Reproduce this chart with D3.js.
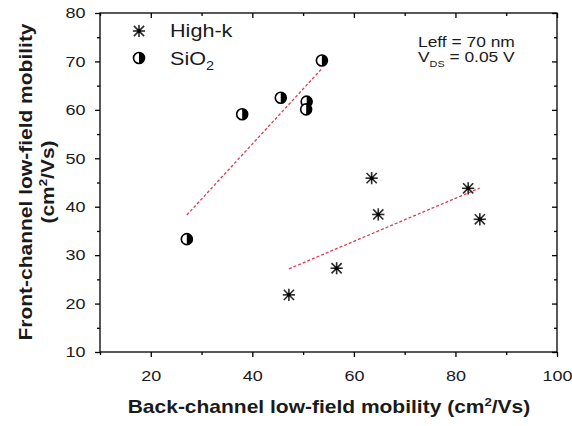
<!DOCTYPE html>
<html>
<head>
<meta charset="utf-8">
<script src="https://cdn.jsdelivr.net/npm/d3@7"></script>
<style>
  body { margin: 0; background: #fff; }
  text { font-family: "Liberation Sans", Arial, sans-serif; fill: #1a1a1a; }
</style>
</head>
<body>
<svg id="chart" width="572" height="426"></svg>
<script>
// data
const highkX = [47.2, 56.6, 63.5, 64.8, 82.5, 84.8];
const highkY = [21.8, 27.3, 45.9, 38.4, 43.8, 37.4];
const sio2X = [27.1, 38.0, 45.6, 50.7, 50.6, 53.7];
const sio2Y = [33.3, 59.1, 62.5, 61.7, 60.1, 70.2];
const xTicks = [20, 40, 60, 80, 100];
const xMinor = [10, 30, 50, 70, 90];
const yTicks = [10, 20, 30, 40, 50, 60, 70, 80];
const yMinor = [15, 25, 35, 45, 55, 65, 75];

const svg = d3.select("#chart");
const mLeft = 100, mRight = 557, mTop = 13, mBottom = 352;
const sx = 1.2; // text in the figure is drawn wide

const x = d3.scaleLinear().domain([10, 100]).range([mLeft, mRight]);
const y = d3.scaleLinear().domain([10, 80]).range([mBottom, mTop]);

// axes
function ticksOnly(g) { g.select(".domain").remove(); g.selectAll("line").attr("stroke", "#000").attr("stroke-width", 1.3); }

svg.append("g").attr("transform", `translate(0,${mBottom})`)
  .call(d3.axisBottom(x).tickValues(xTicks).tickSize(5).tickPadding(13))
  .call(ticksOnly)
  .call(g => g.selectAll("text").attr("font-size", 15).attr("transform", `scale(${sx},1)`).attr("fill", "#1a1a1a"));
svg.append("g").attr("transform", `translate(0,${mBottom})`)
  .call(d3.axisBottom(x).tickValues(xMinor).tickSize(3).tickFormat(""))
  .call(ticksOnly);
svg.append("g").attr("transform", `translate(0,${mTop})`)
  .call(d3.axisBottom(x).tickValues(xTicks).tickSize(5).tickFormat(""))
  .call(ticksOnly);
svg.append("g").attr("transform", `translate(0,${mTop})`)
  .call(d3.axisBottom(x).tickValues(xMinor).tickSize(3).tickFormat(""))
  .call(ticksOnly);

svg.append("g").attr("transform", `translate(${mLeft},0)`)
  .call(d3.axisLeft(y).tickValues(yTicks).tickSize(5).tickPadding(7))
  .call(ticksOnly)
  .call(g => g.selectAll("text").attr("font-size", 15).attr("transform", `scale(${sx},1)`).attr("fill", "#1a1a1a"));
svg.append("g").attr("transform", `translate(${mLeft},0)`)
  .call(d3.axisLeft(y).tickValues(yMinor).tickSize(3).tickFormat(""))
  .call(ticksOnly);
svg.append("g").attr("transform", `translate(${mRight},0)`)
  .call(d3.axisLeft(y).tickValues(yTicks).tickSize(5).tickFormat(""))
  .call(ticksOnly);
svg.append("g").attr("transform", `translate(${mRight},0)`)
  .call(d3.axisLeft(y).tickValues(yMinor).tickSize(3).tickFormat(""))
  .call(ticksOnly);

svg.append("rect")
  .attr("x", mLeft).attr("y", mTop)
  .attr("width", mRight - mLeft).attr("height", mBottom - mTop)
  .attr("fill", "none").attr("stroke", "#000").attr("stroke-width", 1.3);

// linear fits
function fit(xs, ys) {
  const mx = d3.mean(xs), my = d3.mean(ys);
  const sxy = d3.sum(xs, (v, i) => (v - mx) * (ys[i] - my));
  const sxx = d3.sum(xs, v => (v - mx) * (v - mx));
  const b = sxy / sxx, a = my - b * mx;
  const [x0, x1] = d3.extent(xs);
  return [[x0, a + b * x0], [x1, a + b * x1]];
}
const line = d3.line().x(d => x(d[0])).y(d => y(d[1]));
[fit(sio2X, sio2Y), fit(highkX, highkY)].forEach(f => {
  svg.append("path").attr("d", line(f))
    .attr("fill", "none").attr("stroke", "#dc3d55")
    .attr("stroke-width", 1.3).attr("stroke-dasharray", "3,2");
});

// markers
function star(g, cx, cy) {
  const r = 7.2;
  const s = g.append("g").attr("transform", `translate(${cx},${cy})`)
    .attr("stroke", "#2a2a2a").attr("stroke-width", 1.6);
  [0, 45, 90, 135].forEach(a => {
    const t = a * Math.PI / 180;
    const k = (a % 90 === 0) ? 0.85 : 1;
    s.append("line").attr("x1", -r * k * Math.cos(t)).attr("y1", -r * k * Math.sin(t))
      .attr("x2", r * k * Math.cos(t)).attr("y2", r * k * Math.sin(t));
  });
  s.append("circle").attr("r", 2).attr("fill", "#000").attr("stroke", "none");
}
function halfCircle(g, cx, cy) {
  const r = 5.5;
  const s = g.append("g").attr("transform", `translate(${cx},${cy})`);
  s.append("circle").attr("r", r).attr("fill", "#fff").attr("stroke", "#000").attr("stroke-width", 1.6);
  s.append("path").attr("d", `M0,${-r}A${r},${r} 0 0 1 0,${r}Z`).attr("fill", "#000");
}

const pts = svg.append("g");
highkX.forEach((v, i) => star(pts, x(v), y(highkY[i])));
sio2X.forEach((v, i) => halfCircle(pts, x(v), y(sio2Y[i])));

// legend
const leg = svg.append("g");
star(leg, 139, 31);
halfCircle(leg, 139, 58);
leg.append("text").attr("transform", `translate(170,37) scale(${sx},1)`)
  .attr("font-size", 18).text("High-k");
const sio = leg.append("text").attr("transform", `translate(170,65) scale(${sx},1)`)
  .attr("font-size", 18);
sio.append("tspan").text("SiO");
sio.append("tspan").attr("font-size", 12).attr("dy", 5).text("2");

// annotation
svg.append("text").attr("transform", `translate(418,47) scale(${sx},1)`)
  .attr("font-size", 14.5).text("Leff = 70 nm");
const vds = svg.append("text").attr("transform", `translate(418,62) scale(${sx},1)`)
  .attr("font-size", 14.5);
vds.append("tspan").text("V");
vds.append("tspan").attr("font-size", 9).attr("dy", 5).text("DS");
vds.append("tspan").attr("dy", -5).text(" = 0.05 V");

// axis titles
const xt = svg.append("text").attr("transform", `translate(329,413) scale(${sx},1)`)
  .attr("text-anchor", "middle").attr("font-size", 17.5).attr("font-weight", "bold");
xt.append("tspan").text("Back-channel low-field mobility (cm");
xt.append("tspan").attr("font-size", 11).attr("dy", -7).text("2");
xt.append("tspan").attr("dy", 7).text("/Vs)");

const yt = svg.append("g").attr("transform", `translate(0,182) rotate(-90) scale(${sx},1)`);
yt.append("text").attr("y", 32).attr("text-anchor", "middle")
  .attr("font-size", 17.5).attr("font-weight", "bold")
  .text("Front-channel low-field mobility");
const yt2 = yt.append("text").attr("y", 54).attr("text-anchor", "middle")
  .attr("font-size", 17.5).attr("font-weight", "bold");
yt2.append("tspan").text("(cm");
yt2.append("tspan").attr("font-size", 11).attr("dy", -7).text("2");
yt2.append("tspan").attr("dy", 7).text("/Vs)");
</script>
</body>
</html>
